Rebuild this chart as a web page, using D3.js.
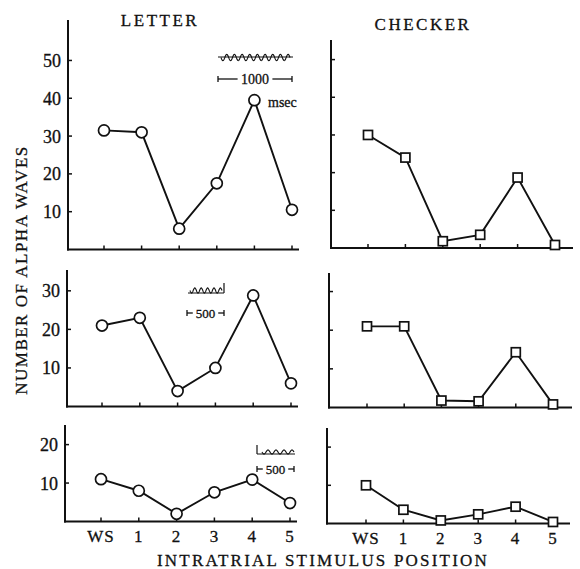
<!DOCTYPE html>
<html>
<head>
<meta charset="utf-8">
<script src="https://cdn.jsdelivr.net/npm/d3@7"></script>
<style>
  html, body { margin: 0; padding: 0; background: #fff; }
  svg { display: block; }
  text { font-family: "Liberation Serif", "DejaVu Serif", serif; fill: #111; stroke: #111; stroke-width: 0.3; }
</style>
</head>
<body>
<svg id="chart" width="580" height="569"></svg>
<script>
// Stimulus positions within a trial
const positions = ["WS", "1", "2", "3", "4", "5"];

// Number of alpha waves, letter stimuli (three recording conditions)
const letterA = [31.5, 31, 5.5, 17.5, 39.5, 10.5];
const letterB = [21, 23, 4, 10, 28.8, 6];
const letterC = [11, 8, 2, 7.6, 10.9, 4.8];

// Number of alpha waves, checkerboard stimuli
const checkerA = [30, 24, 1.8, 3.5, 18.7, 0.8];
const checkerB = [21, 21, 1.8, 1.6, 14.3, 0.8];
const checkerC = [10, 3.6, 0.8, 2.4, 4.4, 0.4];

// Tick values shown on each row
const ticksA = [10, 20, 30, 40, 50];
const ticksB = [10, 20, 30];
const ticksC = [10, 20];

// Panel frames: axis origin, top of y-axis, right end of x-axis
const panels = [
  { data: letterA,  marker: "circle", ticks: ticksA, labels: true,  ax: 68,  zero: 249.5, top: 20,  ymax: 60.7, x0: 104, x1: 292, right: 299 },
  { data: checkerA, marker: "square", ticks: ticksA, labels: false, ax: 331, zero: 248,   top: 40,  ymax: 55.2, x0: 368, x1: 555, right: 573 },
  { data: letterB,  marker: "circle", ticks: ticksB, labels: true,  ax: 67,  zero: 406.5, top: 270, ymax: 35.4, x0: 102, x1: 291, right: 298 },
  { data: checkerB, marker: "square", ticks: ticksB, labels: false, ax: 329, zero: 407.5, top: 273, ymax: 34.8, x0: 367, x1: 553, right: 572 },
  { data: letterC,  marker: "circle", ticks: ticksC, labels: true,  ax: 65,  zero: 521.5, top: 425, ymax: 25.1, x0: 101, x1: 290, right: 297 },
  { data: checkerC, marker: "square", ticks: ticksC, labels: false, ax: 327, zero: 523.5, top: 428, ymax: 25.0, x0: 366, x1: 553, right: 570 }
];

const svg = d3.select("#chart");

panels.forEach((p, i) => {
  const x = d3.scalePoint().domain(positions).range([p.x0, p.x1]);
  const y = d3.scaleLinear().domain([0, p.ymax]).range([p.zero, p.top]);
  const g = svg.append("g");

  // axes
  g.append("line")
    .attr("x1", p.ax).attr("x2", p.ax).attr("y1", p.top).attr("y2", p.zero + 1)
    .attr("stroke", "#111").attr("stroke-width", 2);
  g.append("line")
    .attr("x1", p.ax - 1).attr("x2", p.right).attr("y1", p.zero).attr("y2", p.zero)
    .attr("stroke", "#111").attr("stroke-width", 2);

  // y ticks (inward)
  g.selectAll(".yt").data(p.ticks).join("line")
    .attr("x1", p.ax).attr("x2", p.ax + 4)
    .attr("y1", d => y(d)).attr("y2", d => y(d))
    .attr("stroke", "#111").attr("stroke-width", 1.5);
  if (p.labels) {
    g.selectAll(".yl").data(p.ticks).join("text")
      .attr("x", p.ax - 7).attr("y", d => y(d) + 6.5)
      .attr("text-anchor", "end")
      .attr("font-size", 18)
      .text(d => d);
  }

  // x ticks (inward)
  g.selectAll(".xt").data(positions).join("line")
    .attr("x1", d => x(d)).attr("x2", d => x(d))
    .attr("y1", p.zero).attr("y2", p.zero - 4)
    .attr("stroke", "#111").attr("stroke-width", 1.5);

  // x tick labels on the bottom row
  if (i >= 4) {
    g.selectAll(".xl").data(positions).join("text")
      .attr("x", d => x(d)).attr("y", p.zero + 20)
      .attr("text-anchor", "middle")
      .attr("font-size", 17)
      .attr("letter-spacing", 1)
      .text(d => d);
  }

  // data line
  const pts = p.data.map((v, k) => [x(positions[k]), y(v)]);
  g.append("path")
    .attr("d", d3.line()(pts))
    .attr("fill", "none").attr("stroke", "#111").attr("stroke-width", 1.9);

  // markers
  if (p.marker === "circle") {
    g.selectAll(".m").data(pts).join("circle")
      .attr("cx", d => d[0]).attr("cy", d => d[1]).attr("r", 5.5)
      .attr("fill", "#fff").attr("stroke", "#111").attr("stroke-width", 1.7);
  } else {
    g.selectAll(".m").data(pts).join("rect")
      .attr("x", d => d[0] - 4.5).attr("y", d => d[1] - 4.5)
      .attr("width", 9).attr("height", 9)
      .attr("fill", "#fff").attr("stroke", "#111").attr("stroke-width", 1.7);
  }
});

// Column titles
svg.append("text").attr("x", 160).attr("y", 26).attr("text-anchor", "middle")
  .attr("font-size", 17).attr("letter-spacing", 2.5).text("LETTER");
svg.append("text").attr("x", 423).attr("y", 30).attr("text-anchor", "middle")
  .attr("font-size", 17).attr("letter-spacing", 2.5).text("CHECKER");

// Axis titles
svg.append("text").attr("transform", "translate(27,270) rotate(-90)")
  .attr("text-anchor", "middle").attr("font-size", 17).attr("letter-spacing", 1.5)
  .text("NUMBER OF ALPHA WAVES");
svg.append("text").attr("x", 323).attr("y", 566).attr("text-anchor", "middle")
  .attr("font-size", 17).attr("letter-spacing", 2.2)
  .text("INTRATRIAL STIMULUS POSITION");

// EEG sample traces with time-scale bars
function trace(x0, x1, yMid, amp, cycles) {
  const n = 120, pts = [];
  for (let k = 0; k <= n; k++) {
    const t = k / n;
    pts.push([x0 + t * (x1 - x0), yMid + amp * Math.sin(t * cycles * 2 * Math.PI)]);
  }
  return d3.line()(pts);
}
function scaleBar(x0, x1, yy, label, size) {
  const g = svg.append("g");
  const tw = label.length * size * 0.55 + 4;
  const cx = (x0 + x1) / 2;
  g.append("line").attr("x1", x0).attr("x2", cx - tw / 2).attr("y1", yy).attr("y2", yy)
    .attr("stroke", "#111").attr("stroke-width", 1.3);
  g.append("line").attr("x1", cx + tw / 2).attr("x2", x1).attr("y1", yy).attr("y2", yy)
    .attr("stroke", "#111").attr("stroke-width", 1.3);
  g.append("line").attr("x1", x0).attr("x2", x0).attr("y1", yy - 3).attr("y2", yy + 3)
    .attr("stroke", "#111").attr("stroke-width", 1.3);
  g.append("line").attr("x1", x1).attr("x2", x1).attr("y1", yy - 3).attr("y2", yy + 3)
    .attr("stroke", "#111").attr("stroke-width", 1.3);
  g.append("text").attr("x", cx).attr("y", yy + size * 0.36).attr("text-anchor", "middle")
    .attr("font-family", "Liberation Sans, Arial, sans-serif")
    .attr("font-size", size).text(label);
}

// top trace: 1000 ms
svg.append("line").attr("x1", 218).attr("x2", 293).attr("y1", 57).attr("y2", 57)
  .attr("stroke", "#111").attr("stroke-width", 1.2);
svg.append("path").attr("d", trace(221, 290, 57.5, 3.2, 9))
  .attr("fill", "none").attr("stroke", "#111").attr("stroke-width", 1.1);
scaleBar(218, 292, 79, "1000", 14);
svg.append("text").attr("x", 268).attr("y", 107)
  .attr("font-family", "Liberation Sans, Arial, sans-serif").attr("font-size", 14).text("msec");

// middle trace: 500 ms
svg.append("line").attr("x1", 188).attr("x2", 224).attr("y1", 293).attr("y2", 293)
  .attr("stroke", "#111").attr("stroke-width", 1.2);
svg.append("path").attr("d", trace(190, 222, 290.5, 2.6, 5))
  .attr("fill", "none").attr("stroke", "#111").attr("stroke-width", 1.1);
svg.append("line").attr("x1", 224).attr("x2", 224).attr("y1", 283).attr("y2", 293)
  .attr("stroke", "#111").attr("stroke-width", 1.2);
scaleBar(187, 224, 313, "500", 13);

// bottom trace: 500 ms
svg.append("line").attr("x1", 257).attr("x2", 295).attr("y1", 454).attr("y2", 454)
  .attr("stroke", "#111").attr("stroke-width", 1.2);
svg.append("path").attr("d", trace(262, 294, 452, 2, 4))
  .attr("fill", "none").attr("stroke", "#111").attr("stroke-width", 1.1);
svg.append("line").attr("x1", 257).attr("x2", 257).attr("y1", 445).attr("y2", 454)
  .attr("stroke", "#111").attr("stroke-width", 1.2);
scaleBar(257, 294, 469, "500", 13);
</script>
</body>
</html>
